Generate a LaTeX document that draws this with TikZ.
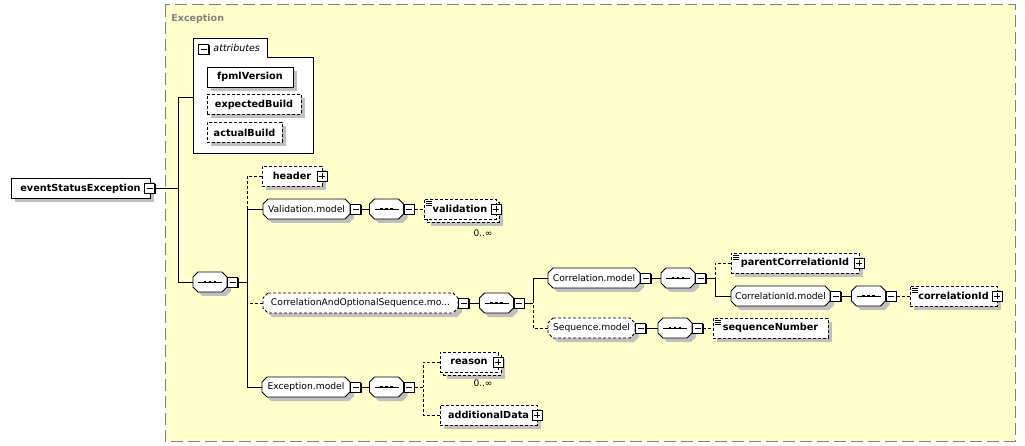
\documentclass[tikz,border=0pt]{standalone}
\usepackage{fontspec}
\setmainfont{DejaVu Sans}
\usetikzlibrary{shadows}
\definecolor{bgy}{RGB}{255,255,204}
\definecolor{shg}{RGB}{192,192,192}
\definecolor{frg}{RGB}{128,128,128}
\newcommand\mkb[1]{\makebox[0pt]{#1}}
% octagon outline: {cx}{cy}{w}{dx}{dy}
\newcommand\octpath[5]{({#1-#3/2+5+#4},{#2-10+#5}) -- ({#1+#3/2-5+#4},{#2-10+#5}) -- ({#1+#3/2+#4},{#2-5+#5}) -- ({#1+#3/2+#4},{#2+5+#5}) -- ({#1+#3/2-5+#4},{#2+10+#5}) -- ({#1-#3/2+5+#4},{#2+10+#5}) -- ({#1-#3/2+#4},{#2+5+#5}) -- ({#1-#3/2+#4},{#2-5+#5}) -- cycle}
% group node: [opts]{name}{cx}{cy}{w}{text}
\newcommand\grpn[6][]{%
  \fill[shg] \octpath{#3}{#4}{#5}{4}{4};
  \draw[fill=white,#1] \octpath{#3}{#4}{#5}{0}{0};
  \node[grptxt,minimum width=#5pt] (#2) at (#3,#4) {\mkb{#6}};}
% compositor node: {name}{cx}{cy}
\newcommand\cmpn[3]{%
  \fill[shg] \octpath{#2}{#3}{34}{4}{4};
  \draw[fill=white] \octpath{#2}{#3}{34}{0}{0};
  \node[grptxt,minimum width=34pt,path picture={
   \draw[line width=0.9pt] ([xshift=5pt]path picture bounding box.west) -- ([xshift=-5pt]path picture bounding box.east);
   \foreach \d in {-5,0,5}{\fill[black] ([shift={(\d pt-1.4pt,-1.4pt)}]path picture bounding box.center) rectangle ++(2.8pt,2.8pt);}}] (#1) at (#2,#3) {};}
\begin{document}
\begin{tikzpicture}[x=1pt,y=-1pt,line width=0.9pt,
 shd/.style={drop shadow={shadow xshift=4pt,shadow yshift=-4pt,fill=shg,opacity=1}},
 elembase/.style={rectangle,draw=black,fill=white,minimum height=20pt,inner sep=0pt,font=\fontsize{9.7}{11}\selectfont\bfseries},
 elem/.style={elembase,shd},
 opt/.style={dash pattern=on 3pt off 2pt},
 grptxt/.style={rectangle,minimum height=20pt,inner sep=0pt,font=\fontsize{9.2}{11}\selectfont},
 pmb/.style={rectangle,draw=black,fill=white,minimum size=10pt,inner sep=0pt,drop shadow={shadow xshift=1pt,shadow yshift=-1pt,fill=black,opacity=1}},
 mbox/.style={pmb,path picture={\draw[line width=0.9pt] ([xshift=2pt]path picture bounding box.west) -- ([xshift=-2pt]path picture bounding box.east);}},
 pbox/.style={pmb,path picture={\draw[line width=0.9pt] ([xshift=2pt]path picture bounding box.west) -- ([xshift=-2pt]path picture bounding box.east);
   \draw[line width=0.9pt] ([yshift=2pt]path picture bounding box.south) -- ([yshift=-2pt]path picture bounding box.north);}},
 cont/.style={path picture={\foreach \k in {0,1,2}{\draw[solid,line width=0.7pt] ([shift={(2pt,-2pt-2*\k pt)}]path picture bounding box.north west) -- ++(6pt,0pt);}}},
 occ/.style={font=\fontsize{9}{11}\selectfont,inner sep=0pt}
]
\path[use as bounding box] (0,0) rectangle (1025,446);
% background group
\draw[frg,dash pattern=on 12pt off 5pt,fill=bgy,line width=1pt] (165,5) rectangle (1015,441);
\node[anchor=west,text=frg,font=\fontsize{9.5}{11}\selectfont\bfseries,inner sep=0pt] (exlbl) at (171,19) {Exception};

% attributes
\draw[fill=white] (193,38) -- (267,38) -- (267,57) -- (313,57) -- (313,153) -- (193,153) -- cycle;
\node[mbox] (attm) at (203.5,49) {};
\node[anchor=west,font=\fontsize{9.5}{11}\selectfont\itshape,inner sep=0pt] (attl) at (213,48) {attributes};
\coordinate (attrL) at (193,97);
\node[elem,minimum width=86pt] (fpml) at (250,77) {\mkb{fpmlVersion}};
\node[elem,opt,minimum width=94pt] (expb) at (254,104.5) {\mkb{expectedBuild}};
\node[elem,opt,minimum width=75pt] (actb) at (244.5,132.5) {\mkb{actualBuild}};

% root
\node[elem,minimum width=139pt] (ese) at (80.5,188.5) {\mkb{eventStatusException}};
\node[mbox] (esem) at (149.5,188.5) {};
\coordinate (bus1) at (178,188.5);

% main sequence
\cmpn{seqA}{210}{282}
\node[mbox,anchor=west] (seqAm) at (seqA.east) {};
\coordinate (bus2) at (247,282);

\node[elem,opt,minimum width=60pt] (hdr) at (292,176) {\mkb{header}};
\node[pbox] (hdrp) at (hdr.east) {};

\grpn{valM}{306.5}{209}{87}{Validation.model}
\node[mbox,anchor=west] (valMm) at (valM.east) {};
\cmpn{seqV}{386.5}{209}
\node[mbox,anchor=west] (seqVm) at (seqV.east) {};
\node[elem,opt,minimum width=72pt] (valB) at (463,212) {};
\node[elembase,opt,cont,minimum width=72pt] (val) at (460,209) {\mkb{validation}};
\node[pbox] (valp) at (val.east) {};
\node[occ] (valo) at (483,233) {0..∞};

\grpn[opt]{caos}{360.5}{303}{195}{CorrelationAndOptionalSequence.mo...}
\node[mbox,anchor=west] (caosm) at (caos.east) {};
\cmpn{seqC}{496.5}{303}
\node[mbox,anchor=west] (seqCm) at (seqC.east) {};
\coordinate (bus3) at (533,303);

\grpn{corM}{594}{278}{92}{Correlation.model}
\node[mbox,anchor=west] (corMm) at (corM.east) {};
\cmpn{seqCo}{678}{278}
\node[mbox,anchor=west] (seqCom) at (seqCo.east) {};
\coordinate (bus4) at (715,278);

\node[elem,opt,cont,minimum width=128pt] (pcid) at (795,263) {\mkb{parentCorrelationId}};
\node[pbox] (pcidp) at (pcid.east) {};

\grpn{cidM}{780.5}{296}{99}{CorrelationId.model}
\node[mbox,anchor=west] (cidMm) at (cidM.east) {};
\cmpn{seqCi}{868.5}{296}
\node[mbox,anchor=west] (seqCim) at (seqCi.east) {};
\node[elem,opt,cont,minimum width=87pt] (cid) at (953.5,296) {\mkb{correlationId}};
\node[pbox] (cidp) at (cid.east) {};

\grpn[opt]{seqMod}{591.5}{328}{87}{Sequence.model}
\node[mbox,anchor=west] (seqModm) at (seqMod.east) {};
\cmpn{seqS}{675}{328}
\node[mbox,anchor=west] (seqSm) at (seqS.east) {};
\node[elem,opt,cont,minimum width=115pt] (seqN) at (770.5,328) {\mkb{sequenceNumber}};

\grpn{exM}{306}{387}{88}{Exception.model}
\node[mbox,anchor=west] (exMm) at (exM.east) {};
\cmpn{seqE}{386.5}{387}
\node[mbox,anchor=west] (seqEm) at (seqE.east) {};
\coordinate (bus5) at (423,387);

\node[elem,opt,minimum width=58pt] (reasonB) at (472,365) {};
\node[elembase,opt,minimum width=58pt] (reason) at (469,362) {\mkb{reason}};
\node[pbox] (reasonp) at (reason.east) {};
\node[occ] (reaso) at (483,383) {0..∞};
\node[elem,opt,minimum width=97pt] (addl) at (488.5,415) {\mkb{additionalData}};
\node[pbox] (addlp) at (addl.east) {};

% connectors
\draw (esem.east) -- (bus1);
\draw (bus1) |- (attrL);
\draw (bus1) |- (seqA.west);
\draw (seqAm.east) -- (bus2);
\draw[opt] (hdr.west) -| (bus2 |- valM.west);
\draw (valM.west) -| (bus2);
\draw[opt] (caos.west) -- (caos.west -| bus2);
\draw (exM.west) -| (bus2);
\draw (valMm.east) -- (seqV.west);
\draw[opt] (seqVm.east) -- (val.west);
\draw (caosm.east) -- (seqC.west);
\draw (seqCm.east) -- (bus3);
\draw (corM.west) -| (bus3);
\draw[opt] (seqMod.west) -| (bus3);
\draw (corMm.east) -- (seqCo.west);
\draw (seqCom.east) -- (bus4);
\draw[opt] (pcid.west) -| (bus4);
\draw (cidM.west) -| (bus4);
\draw (cidMm.east) -- (seqCi.west);
\draw[opt] (seqCim.east) -- (cid.west);
\draw (seqModm.east) -- (seqS.west);
\draw[opt] (seqSm.east) -- (seqN.west);
\draw (exMm.east) -- (seqE.west);
\draw[opt] (seqEm.east) -- (bus5);
\draw[opt] (reason.west) -| (bus5);
\draw[opt] (addl.west) -| (bus5);
\end{tikzpicture}
\end{document}
